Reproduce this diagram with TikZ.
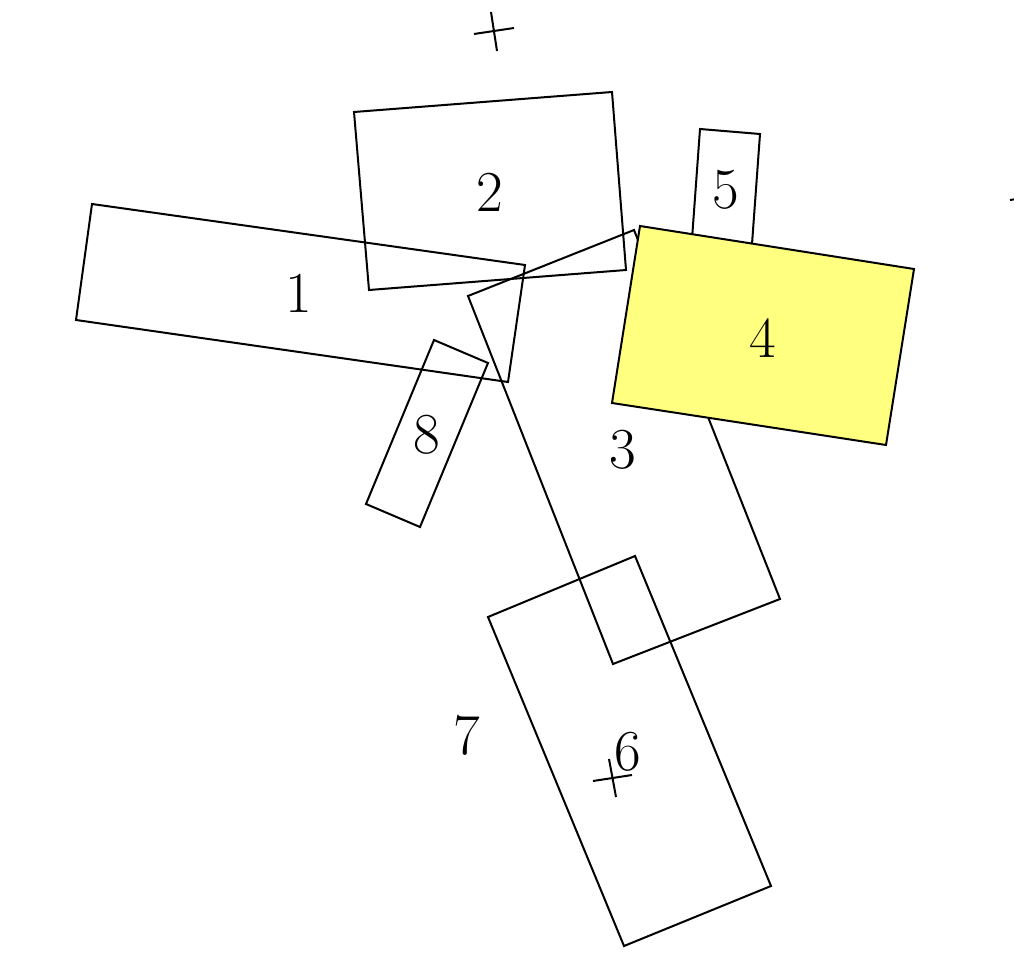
\documentclass[tikz,border=0pt]{standalone}
\begin{document}
\begin{tikzpicture}[x=1pt,y=-1pt,
  boxline/.style={draw=black,line width=2pt,line join=miter},
  lbl/.style={font=\fontsize{58}{60}\selectfont,inner sep=0pt},
  cross/.style={draw=black,line width=2pt}]
\useasboundingbox (0,0) rectangle (1014,960);
% box 1
\draw[boxline] (92,204) -- (525,265) -- (508,382) -- (76,320) -- cycle;
% box 2
\draw[boxline] (354,112) -- (612,92) -- (626,270) -- (369,290) -- cycle;
% box 3
\draw[boxline] (468,296) -- (634,230) -- (780,599) -- (613,664) -- cycle;
% box 5
\draw[boxline] (700,129) -- (760,134) -- (752,244) -- (692,239) -- cycle;
% box 8
\draw[boxline] (434,340) -- (488,363) -- (420,527) -- (366,504) -- cycle;
% box 6
\draw[boxline] (488,617) -- (635,556) -- (771,886) -- (624,946) -- cycle;
% box 4
\draw[boxline,fill={rgb,255:red,255;green,255;blue,128}] (640,226) -- (914,269) -- (886,445) -- (612,403) -- cycle;
% labels
\node[lbl] (l1) at (299,293) {1};
\node[lbl] (l2) at (490,192) {2};
\node[lbl] (l3) at (623,450) {3};
\node[lbl] (l4) at (763,338) {4};
\node[lbl] (l5) at (726,190) {5};
\node[lbl] (l6) at (628,752) {6};
\node[lbl] (l7) at (467,735) {7};
\node[lbl] (l8) at (427,435) {8};
% cross marks
\draw[cross] (474,34) -- (514,28);
\draw[cross] (491,12) -- (497,51);
\draw[cross] (593,781) -- (632,775);
\draw[cross] (609,759) -- (616,797);
\draw[cross] (1010,200) -- (1050,194);
\end{tikzpicture}
\end{document}
